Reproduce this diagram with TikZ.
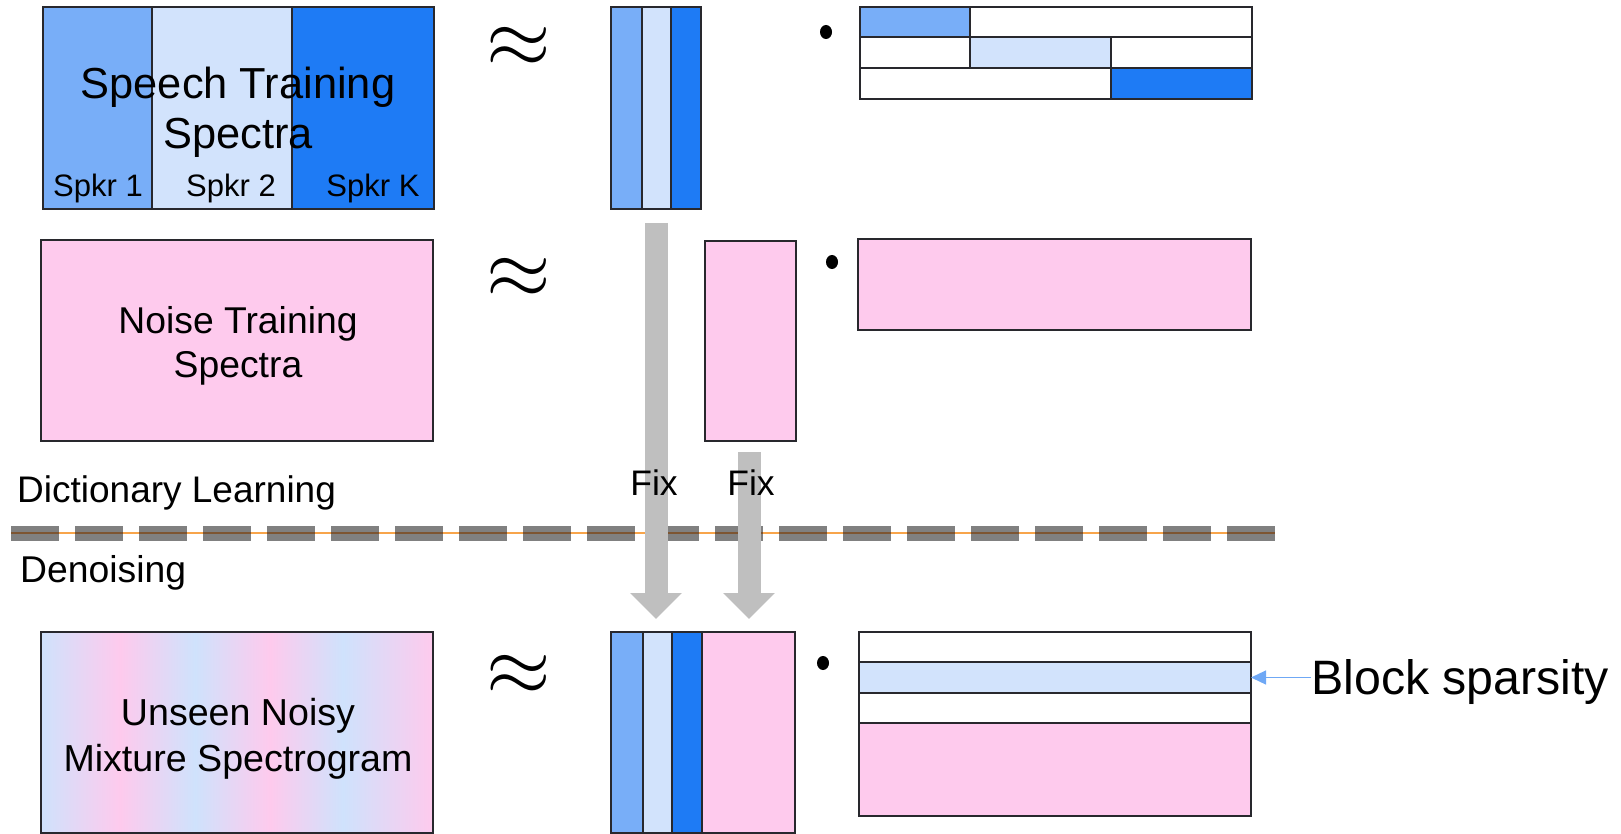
\documentclass[tikz,border=0pt]{standalone}
\usepackage{fontspec}
\setmainfont{Liberation Sans}
\usetikzlibrary{arrows.meta}

\definecolor{spkA}{RGB}{120,174,248}
\definecolor{spkB}{RGB}{210,227,252}
\definecolor{spkC}{RGB}{30,123,245}
\definecolor{noisepink}{RGB}{254,202,237}
\definecolor{mixblue}{RGB}{207,226,252}
\definecolor{edge}{RGB}{40,40,45}
\definecolor{fixgray}{RGB}{191,191,191}
\definecolor{dashgray}{RGB}{128,128,128}
\definecolor{sepline}{RGB}{248,165,75}
\definecolor{sepdark}{RGB}{125,85,50}
\definecolor{pointer}{RGB}{111,168,245}

\newcommand\sizept[1]{\fontsize{#1}{#1}\selectfont}

\begin{document}
\begin{tikzpicture}[x=1pt,y=-1pt,
  blk/.style={draw=edge, line width=1.3pt, inner sep=0pt, outer sep=0pt, anchor=north west},
  lbl/.style={inner sep=0pt, anchor=base, text=black},
  approxsign/.style={inner sep=1pt, scale=8.3},
  fixarrow/.style={draw=fixgray, line width=23pt, -{Triangle[width=50pt,length=26pt]}},
  pointarrow/.style={draw=pointer, line width=1.3pt, -{Triangle[width=14pt,length=15pt]}}
]
\useasboundingbox (0,0) rectangle (1621,834);

% ---------- speech dictionary learning ----------
\node[blk, fill=spkA, minimum width=109pt, minimum height=202pt] (s1) at (43,7) {};
\node[blk, fill=spkB, minimum width=140pt, minimum height=202pt] (s2) at (152,7) {};
\node[blk, fill=spkC, minimum width=142pt, minimum height=202pt] (s3) at (292,7) {};
\node[lbl, font=\sizept{43.4}] (speechA) at (238,99) {Speech Training};
\node[lbl, font=\sizept{43.4}] (speechB) at (238,149) {Spectra};
\node[lbl, font=\sizept{31}] (spk1) at (98,197) {Spkr 1};
\node[lbl, font=\sizept{31}] (spk2) at (231,197) {Spkr 2};
\node[lbl, font=\sizept{31}] (spkK) at (373,197) {Spkr K};

\node[approxsign] (ap1) at (519,47) {$\approx$};

\node[blk, fill=spkA, minimum width=31pt, minimum height=202pt] (w1) at (611,7) {};
\node[blk, fill=spkB, minimum width=29pt, minimum height=202pt] (w2) at (642,7) {};
\node[blk, fill=spkC, minimum width=30pt, minimum height=202pt] (w3) at (671,7) {};

\fill (826,32) ellipse [x radius=6pt, y radius=7pt];

\node[blk, fill=spkA,  minimum width=110pt, minimum height=30pt] (h11) at (860,7) {};
\node[blk, fill=white, minimum width=282pt, minimum height=30pt] (h12) at (970,7) {};
\node[blk, fill=white, minimum width=110pt, minimum height=31pt] (h21) at (860,37) {};
\node[blk, fill=spkB,  minimum width=141pt, minimum height=31pt] (h22) at (970,37) {};
\node[blk, fill=white, minimum width=141pt, minimum height=31pt] (h23) at (1111,37) {};
\node[blk, fill=white, minimum width=251pt, minimum height=31pt] (h31) at (860,68) {};
\node[blk, fill=spkC,  minimum width=141pt, minimum height=31pt] (h32) at (1111,68) {};

% ---------- noise dictionary learning ----------
\node[blk, fill=noisepink, minimum width=392pt, minimum height=201pt] (noise) at (41,240) {};
\node[lbl, font=\sizept{37.3}] (noiseA) at (238,333) {Noise Training};
\node[lbl, font=\sizept{37.3}] (noiseB) at (238,377) {Spectra};

\node[approxsign] (ap2) at (519,278) {$\approx$};

\node[blk, fill=noisepink, minimum width=91pt, minimum height=200pt] (wn) at (705,241) {};
\fill (832,262) ellipse [x radius=6pt, y radius=7pt];
\node[blk, fill=noisepink, minimum width=393pt, minimum height=91pt] (hn) at (858,239) {};

% ---------- phase separator ----------
\node[lbl, anchor=base west, font=\sizept{37}] (dl) at (17,502) {Dictionary Learning};
\coordinate (sepL) at (11,533);
\coordinate (sepR) at (1275,533);
\draw[dashgray, line width=15pt, dash pattern=on 48pt off 16pt] (sepL) -- (sepR);
\draw[sepline, line width=1.6pt] (sepL) -- (sepR);
\draw[sepdark, line width=1.6pt, dash pattern=on 48pt off 16pt] (sepL) -- (sepR);
\node[lbl, anchor=base west, font=\sizept{37.3}] (dn) at (20,582) {Denoising};

% ---------- fixed dictionaries carried down ----------
\coordinate (f1s) at (656,223);
\coordinate (f1e) at (656,619);
\coordinate (f2s) at (749,452);
\coordinate (f2e) at (749,619);
\draw[fixarrow] (f1s) -- (f1e);
\draw[fixarrow] (f2s) -- (f2e);
\node[lbl, font=\sizept{35.5}] (fix1) at (654,495) {Fix};
\node[lbl, font=\sizept{35.5}] (fix2) at (751,495) {Fix};

% ---------- denoising ----------
\shade[left color=mixblue, right color=noisepink] (41,632) rectangle (120,833);
\shade[left color=noisepink, right color=mixblue] (120,632) rectangle (195,833);
\shade[left color=mixblue, right color=noisepink] (195,632) rectangle (270,833);
\shade[left color=noisepink, right color=mixblue] (270,632) rectangle (343,833);
\shade[left color=mixblue, right color=noisepink] (343,632) rectangle (433,833);
\node[blk, minimum width=392pt, minimum height=201pt] (mix) at (41,632) {};
\node[lbl, font=\sizept{37.6}] (mixA) at (238,725) {Unseen Noisy};
\node[lbl, font=\sizept{37.6}] (mixB) at (238,771) {Mixture Spectrogram};

\node[approxsign] (ap3) at (519,675) {$\approx$};

\node[blk, fill=spkA,      minimum width=32pt, minimum height=201pt] (b1) at (611,632) {};
\node[blk, fill=spkB,      minimum width=29pt, minimum height=201pt] (b2) at (643,632) {};
\node[blk, fill=spkC,      minimum width=30pt, minimum height=201pt] (b3) at (672,632) {};
\node[blk, fill=noisepink, minimum width=93pt, minimum height=201pt] (b4) at (702,632) {};

\fill (823,663) ellipse [x radius=6pt, y radius=7pt];

\node[blk, fill=white,     minimum width=392pt, minimum height=30pt] (g1) at (859,632) {};
\node[blk, fill=spkB,      minimum width=392pt, minimum height=31pt] (g2) at (859,662) {};
\node[blk, fill=white,     minimum width=392pt, minimum height=30pt] (g3) at (859,693) {};
\node[blk, fill=noisepink, minimum width=392pt, minimum height=93pt] (g4) at (859,723) {};

\node[lbl, anchor=base west, font=\sizept{48.3}] (bs) at (1311,694) {Block sparsity};
\draw[pointarrow] (bs.west |- g2.east) -- (g2.east);

\end{tikzpicture}
\end{document}
